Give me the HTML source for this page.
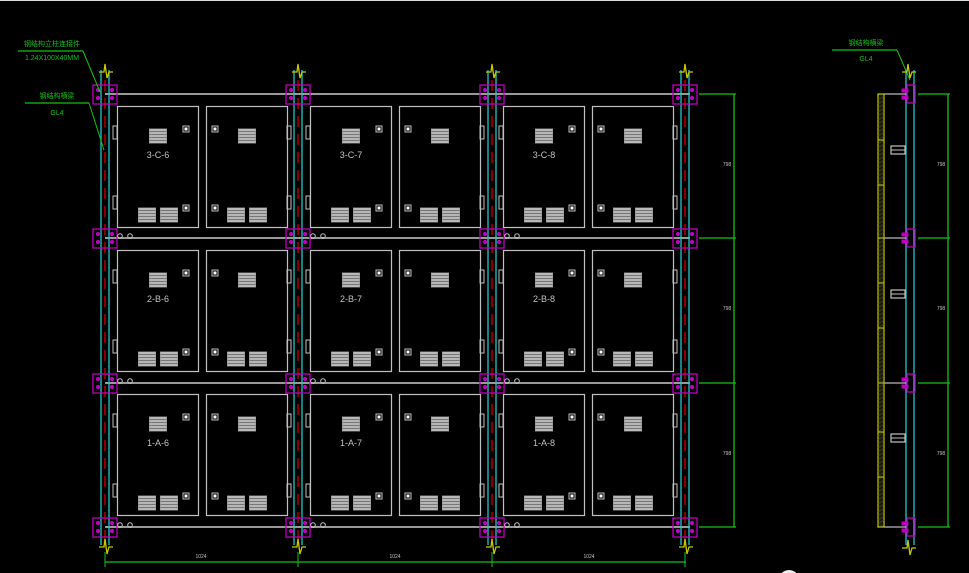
<!DOCTYPE html>
<html><head><meta charset="utf-8"><style>
html,body{margin:0;padding:0;background:#000;width:969px;height:573px;overflow:hidden}
svg{display:block}
text{font-family:"Liberation Sans","Noto Sans CJK SC",sans-serif}
</style></head><body>
<svg id="s" width="969" height="573" xmlns="http://www.w3.org/2000/svg">
<rect x="0" y="0" width="969" height="1" fill="#ddd"/>
</svg>
<script>
const s=document.getElementById('s');let h='';
const L=(x1,y1,x2,y2,c,w,d)=>h+=`<line x1="${x1}" y1="${y1}" x2="${x2}" y2="${y2}" stroke="${c}" stroke-width="${w||1}" ${d?`stroke-dasharray="${d}"`:''}/>`;
const R=(x,y,w,hh,c,f,sw)=>h+=`<rect x="${x}" y="${y}" width="${w}" height="${hh}" stroke="${c}" fill="${f||'none'}" stroke-width="${sw||1}"/>`;
const T=(x,y,t,c,sz,a)=>h+=`<text x="${x}" y="${y}" fill="${c}" font-size="${sz}" text-anchor="${a||'middle'}">${t}</text>`;
const G='#12c212',W='#c0c0c0',C='#1fc8c8',M='#c000c0',Y='#c8c800';
const rails=[94,238,383,527];
rails.forEach(y=>{L(105,y,690,y,'#999',2);});
const px=[117,206,310,399,503,592],py=[106,250,394];
const labels=[['3-C-6','3-C-7','3-C-8'],['2-B-6','2-B-7','2-B-8'],['1-A-6','1-A-7','1-A-8']];
function vent(cx,y,w){R(cx-w/2,y-1,w,14,'#888','#777',1);for(let i=0;i<5;i++)L(cx-w/2,y+i*3,cx+w/2,y+i*3,'#ccc',1.6);}
py.forEach((y,r)=>px.forEach((x,i)=>{
 R(x+.5,y+.5,81,121,W,'none',1.2);
 const left=i%2==0;
 vent(x+41,y+24,17);
 const sx=left?x+66:x+6;
 R(sx,y+20,6,6,W,'#000');R(sx+2,y+22,2,2,'#fff','#fff');
 R(sx,y+99,6,6,W,'#000');R(sx+2,y+101,2,2,'#fff','#fff');
 vent(x+30,y+103,17);vent(x+52,y+103,17);
 if(left)T(x+41,y+52,labels[r][i/2],W,9);
 const hx=left?x-4:x+81;
 R(hx,y+20,4,13,W);R(hx,y+90,4,13,W);
}));
const cols=[105,298,492,685];
cols.forEach(cx=>{
 L(cx-4,70,cx-4,545,C,1.3);L(cx+4,70,cx+4,545,C,1.3);
 L(cx,80,cx,540,'#b00000',1.5,'11,7');
 h+=`<polyline points="${cx-6},72 ${cx-1},72 ${cx},64 ${cx+2},78 ${cx+4},72 ${cx+8},72" stroke="${Y}" fill="none" stroke-width="1.3"/>`;
 h+=`<polyline points="${cx-6},547 ${cx-1},547 ${cx},539 ${cx+2},554 ${cx+4},547 ${cx+8},547" stroke="${Y}" fill="none" stroke-width="1.3"/>`;
 rails.forEach(y=>{
  R(cx-12,y-9,24,19,M,'none',1.3);
  [[-7,-4],[7,-4],[-7,4],[7,4]].forEach(p=>h+=`<circle cx="${cx+p[0]}" cy="${y+p[1]}" r="1.6" stroke="${M}" fill="${M}"/>`);
  if(y>100 && cx<680){h+=`<circle cx="${cx+15}" cy="${y-2}" r="2.3" stroke="${W}" fill="none"/><circle cx="${cx+25}" cy="${y-2}" r="2.3" stroke="${W}" fill="none"/>`;}
 });
});
rails.forEach(y=>L(699,y,736,y,G,1.3));
L(734,94,734,527,G,1.3);
[166,310,455].forEach(y=>T(727,y,'798',W,5,'middle'));
L(105,562,686,562,G,1.3);
cols.forEach(cx=>L(cx,552,cx,567,G,1));
[201,395,589].forEach(x=>T(x,558,'1024',W,5));
L(18,51,83,51,G,1.3);L(83,51,100,92,G,1);
T(52,46,'钢结构立柱连接件',G,7);T(52,60,'1.24X100X40MM',G,7);
L(25,103,89,103,G,1.3);L(89,103,104,150,G,1);
T(57,98,'钢结构横梁',G,7);T(57,115,'GL4',G,7);
L(832,50,897,50,G,1.3);L(897,50,910,80,G,1);
T(866,45,'钢结构横梁',G,7);T(866,61,'GL4',G,7);
R(878,94,6,433,Y,'#1a1a0a',1.2);
for(let y=96;y<526;y+=4)L(878,y+4,884,y,'#444',0.6);
[94,140,185,238,283,328,383,432,477,527].forEach(y=>L(878,y,884,y,Y,1));
L(906,70,906,545,C,1.3);L(914,70,914,545,C,1.3);
h+=`<polyline points="902,72 907,72 908,64 910,78 912,72 916,72" stroke="${Y}" fill="none" stroke-width="1.3"/>`;
h+=`<polyline points="902,548 907,548 908,540 910,555 912,548 916,548" stroke="${Y}" fill="none" stroke-width="1.3"/>`;
rails.forEach(y=>{
 L(884,y,906,y,'#999',1.5);
 R(907,y-9,8,18,M,'none',1.3);
 R(902,y-5,6,3,M,M);R(902,y+2,6,3,M,M);
 L(918,y,950,y,G,1.3);
});
L(948,94,948,527,G,1.3);
[146,290,434].forEach(y=>{R(891,y,14,8,W,'none',1.2);L(891,y+4,905,y+4,W,1);});
[166,310,455].forEach(y=>T(941,y,'798',W,5));
h+=`<circle cx="789" cy="580" r="10" fill="#eee"/>`;
s.insertAdjacentHTML('beforeend',h);
</script>
</body></html>
